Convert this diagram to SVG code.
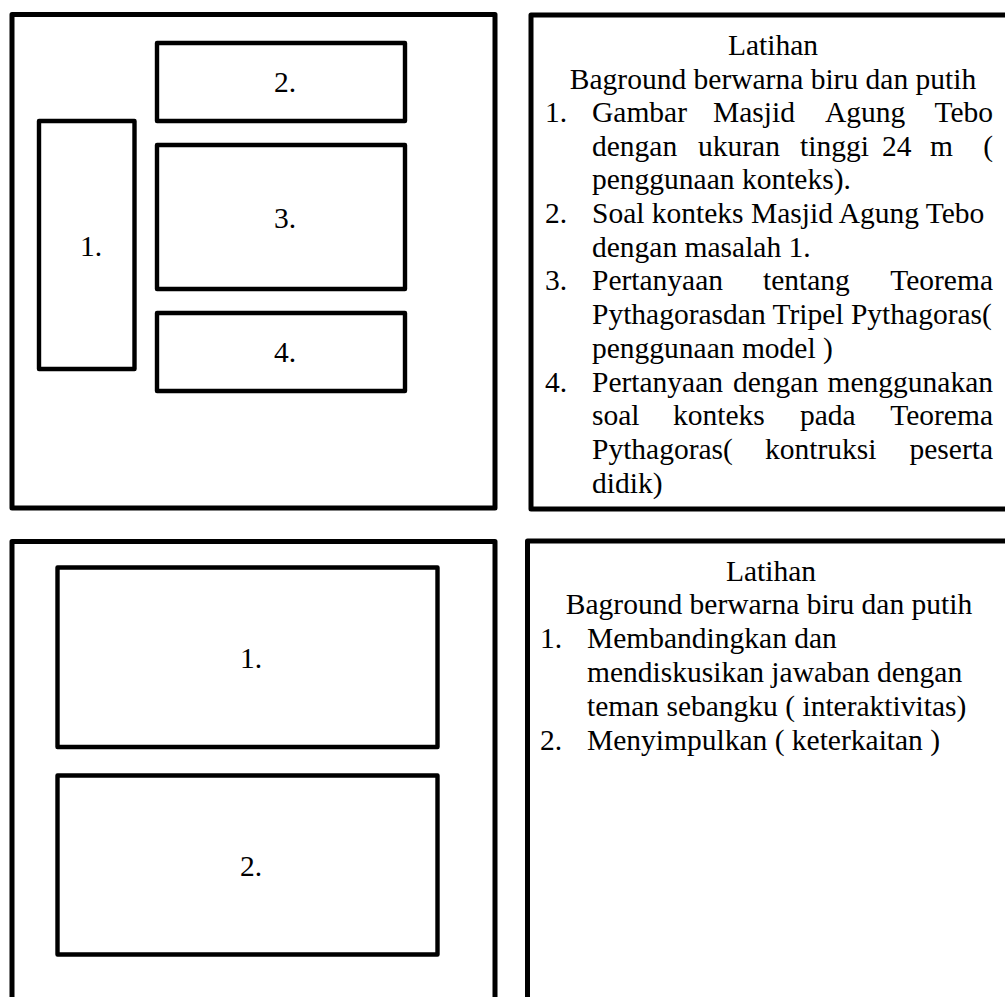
<svg xmlns="http://www.w3.org/2000/svg" width="1005" height="997" viewBox="0 0 1005 997" font-family="Liberation Serif, serif" font-size="29.5">
  <style>
    .frame { fill: #ffffff; stroke: #000000; stroke-width: 5; stroke-linejoin: round; }
    .slot { fill: #ffffff; stroke: #000000; stroke-width: 4.4; stroke-linejoin: round; }
    text { font-family: 'Liberation Serif', serif; font-size: 29.5px; fill: #000000; }
    .mid { text-anchor: middle; }
    .end { text-anchor: end; }
  </style>
  <rect x="0" y="0" width="1005" height="997" fill="#ffffff"/>

  <!-- Slide 1: layout -->
  <g id="layout-1">
    <rect class="frame" x="12" y="14.5" width="483" height="493.5"/>
    <g id="layout-1-slot-1">
      <rect class="slot" x="39" y="121" width="95.5" height="248"/>
      <text x="91" y="256" class="mid">1.</text>
    </g>
    <g id="layout-1-slot-2">
      <rect class="slot" x="157" y="43" width="248" height="78"/>
      <text x="285" y="92" class="mid">2.</text>
    </g>
    <g id="layout-1-slot-3">
      <rect class="slot" x="157" y="145" width="248" height="144"/>
      <text x="285" y="228" class="mid">3.</text>
    </g>
    <g id="layout-1-slot-4">
      <rect class="slot" x="157" y="313" width="248" height="78"/>
      <text x="285" y="362" class="mid">4.</text>
    </g>
  </g>

  <!-- Slide 1: description -->
  <g id="notes-1">
    <rect class="frame" x="531" y="15" width="490" height="494"/>
    <text x="773" y="55" class="mid">Latihan</text>
    <text x="773" y="88.5" class="mid">Baground berwarna biru dan putih</text>

    <text x="545" y="122">1.</text>
    <text y="122"><tspan x="592">Gambar</tspan><tspan x="713">Masjid</tspan><tspan x="825">Agung</tspan></text>
    <text x="993" y="122" class="end">Tebo</text>
    <text y="155.5"><tspan x="592">dengan</tspan><tspan x="698">ukuran</tspan><tspan x="800">tinggi</tspan><tspan x="882">24</tspan><tspan x="930">m</tspan></text>
    <text x="993" y="155.5" class="end">(</text>
    <text x="592" y="189">penggunaan konteks).</text>

    <text x="545" y="223">2.</text>
    <text x="592" y="223">Soal konteks Masjid Agung Tebo</text>
    <text x="592" y="256.5">dengan masalah 1.</text>

    <text x="545" y="290">3.</text>
    <text y="290"><tspan x="592">Pertanyaan</tspan><tspan x="763">tentang</tspan></text>
    <text x="993" y="290" class="end">Teorema</text>
    <text x="592" y="324">Pythagorasdan Tripel Pythagoras(</text>
    <text x="592" y="357.5">penggunaan model )</text>

    <text x="545" y="391.5">4.</text>
    <text y="391.5"><tspan x="592">Pertanyaan</tspan><tspan x="733">dengan</tspan></text>
    <text x="993" y="391.5" class="end">menggunakan</text>
    <text y="425"><tspan x="592">soal</tspan><tspan x="673">konteks</tspan><tspan x="800">pada</tspan></text>
    <text x="993" y="425" class="end">Teorema</text>
    <text y="459"><tspan x="592">Pythagoras(</tspan><tspan x="765">kontruksi</tspan></text>
    <text x="993" y="459" class="end">peserta</text>
    <text x="592" y="492.5">didik)</text>
  </g>

  <!-- Slide 2: layout -->
  <g id="layout-2">
    <rect class="frame" x="12" y="541.5" width="483" height="470"/>
    <g id="layout-2-slot-1">
      <rect class="slot" x="57.5" y="567.5" width="380" height="179.5"/>
      <text x="251" y="668" class="mid">1.</text>
    </g>
    <g id="layout-2-slot-2">
      <rect class="slot" x="57.5" y="775.5" width="380" height="179"/>
      <text x="251" y="876" class="mid">2.</text>
    </g>
  </g>

  <!-- Slide 2: description -->
  <g id="notes-2">
    <rect class="frame" x="527.5" y="541" width="490" height="470"/>
    <text x="771" y="580.5" class="mid">Latihan</text>
    <text x="769" y="614" class="mid">Baground berwarna biru dan putih</text>
    <text x="540" y="648">1.</text>
    <text x="587" y="648">Membandingkan dan</text>
    <text x="587" y="682">mendiskusikan jawaban dengan</text>
    <text x="587" y="715.5">teman sebangku ( interaktivitas)</text>
    <text x="540" y="749.5">2.</text>
    <text x="587" y="749.5">Menyimpulkan ( keterkaitan )</text>
  </g>
</svg>
